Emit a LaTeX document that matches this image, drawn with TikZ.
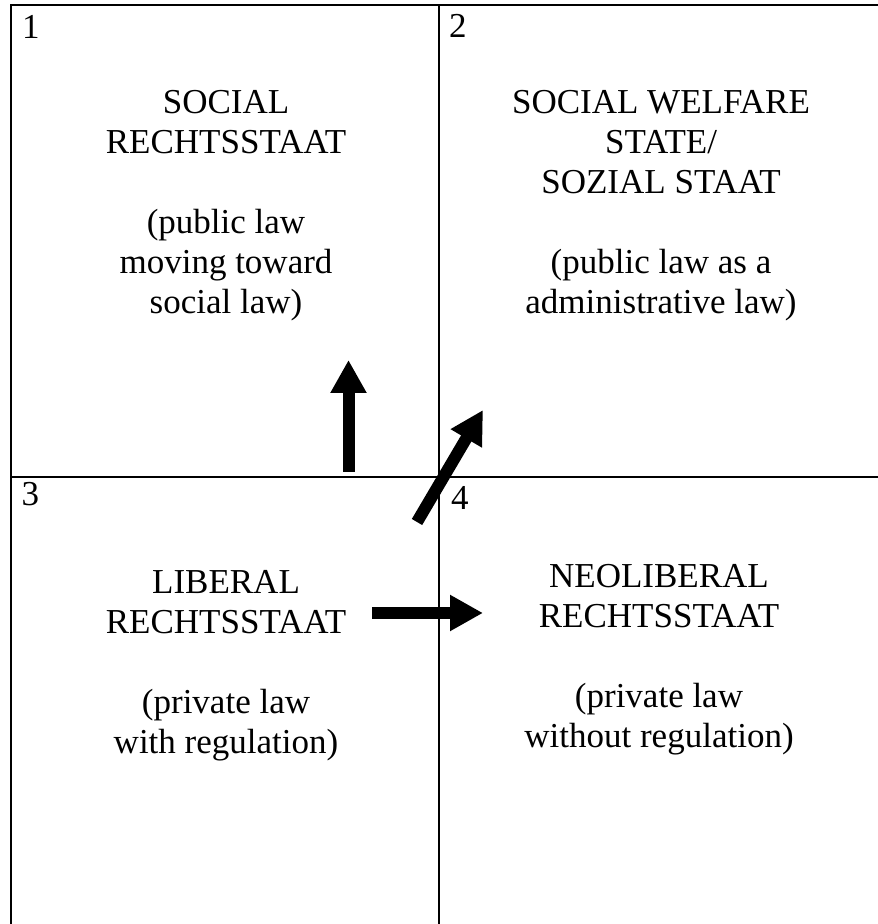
\documentclass[tikz,border=0pt]{standalone}
\usepackage{fontspec}
\setmainfont{Liberation Serif}
\usetikzlibrary{arrows.meta}
\begin{document}
\begin{tikzpicture}[x=1pt,y=1pt,
  gridline/.style={line width=2pt},
  bigarrow/.style={line width=12pt, -{Triangle[length=33pt,width=34pt]}},
  celltext/.style={anchor=north, align=center, inner sep=0pt, font=\fontsize{35}{40}\selectfont},
  cellnum/.style={anchor=base west, inner sep=0pt, font=\fontsize{35}{40}\selectfont}]
\useasboundingbox (0,0) rectangle (878,924);
\coordinate (tl) at (10.5,918.5);
\coordinate (tr) at (878,918.5);
\coordinate (bl) at (10.5,0);
\coordinate (mt) at (439,918.5);
\coordinate (mb) at (439,0);
\coordinate (ml) at (10.5,447);
\coordinate (mr) at (878,447);
\draw[gridline] (tr) -- (tl) -- (bl);
\draw[gridline] (mt) -- (mb);
\draw[gridline] (ml) -- (mr);
\node[cellnum] (n1) at (22,885) {1};
\node[cellnum] (n2) at (449,886) {2};
\node[cellnum] (n3) at (21.5,418) {3};
\node[cellnum] (n4) at (451,414) {4};
\node[celltext] (q1) at (226,834) {SOCIAL\\RECHTSSTAAT\\[40pt](public law\\moving toward\\social law)};
\node[celltext] (q2) at (661,834) {SOCIAL WELFARE\\STATE/\\SOZIAL STAAT\\[40pt](public law as a\\administrative law)};
\node[celltext] (q3) at (226,354) {LIBERAL\\RECHTSSTAAT\\[40pt](private law\\with regulation)};
\node[celltext] (q4) at (659,360) {NEOLIBERAL\\RECHTSSTAAT\\[40pt](private law\\without regulation)};
\coordinate (a1s) at (348.5,452);
\coordinate (a1e) at (348.5,564);
\coordinate (a2s) at (417,402);
\coordinate (a2e) at (483,514);
\coordinate (a3s) at (372,311);
\coordinate (a3e) at (483,311);
\draw[bigarrow] (a1s) -- (a1e);
\draw[bigarrow] (a2s) -- (a2e);
\draw[bigarrow] (a3s) -- (a3e);
\end{tikzpicture}
\end{document}
